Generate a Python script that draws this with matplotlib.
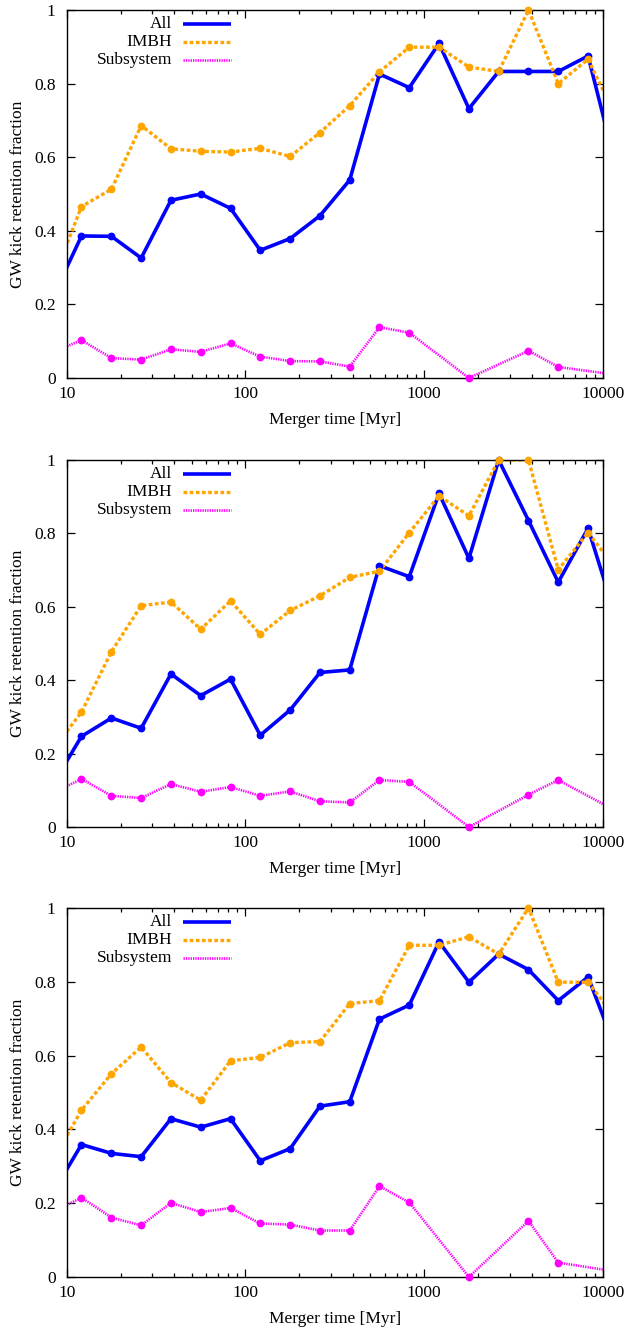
import numpy as np
import matplotlib
matplotlib.use("Agg")
import matplotlib.pyplot as plt
from matplotlib.lines import Line2D
from matplotlib.ticker import LogLocator, NullFormatter, FixedLocator, FixedFormatter

plt.rcParams['font.family'] = ['Liberation Serif', 'DejaVu Serif']
plt.rcParams['mathtext.fontset'] = 'stix'

# Bin centres of merger time [Myr]
merger_time = [8.25, 12.1, 17.8, 26.1, 38.3, 56.2, 82.5, 121, 178, 261,
               383, 562, 825, 1210, 1778, 2610, 3830, 5620, 8250, 12100]

nan = np.nan
# Panel 1
all_1 = [0.213, 0.386, 0.385, 0.326, 0.483, 0.500, 0.461, 0.347, 0.379, 0.441,
         0.538, 0.826, 0.789, 0.909, 0.732, 0.833, 0.833, 0.833, 0.875, 0.555]
imbh_1 = [0.258, 0.466, 0.513, 0.686, 0.623, 0.616, 0.614, 0.624, 0.602, 0.667,
          0.740, 0.832, 0.899, 0.899, 0.845, 0.833, 1.000, 0.800, 0.866, 0.700]
sub_1 = [0.069, 0.103, 0.054, 0.050, 0.078, 0.071, 0.094, 0.058, 0.046, 0.045,
         0.031, 0.138, 0.123, nan, 0.000, nan, 0.074, 0.030, nan, 0.008]
# Panel 2
all_2 = [0.111, 0.247, 0.297, 0.269, 0.417, 0.358, 0.403, 0.250, 0.319, 0.421,
         0.428, 0.712, 0.682, 0.909, 0.732, 1.000, 0.835, 0.667, 0.814, 0.554]
imbh_2 = [0.207, 0.313, 0.478, 0.603, 0.613, 0.539, 0.616, 0.525, 0.590, 0.630,
          0.680, 0.697, 0.802, 0.902, 0.848, 1.000, 1.000, 0.701, 0.802, 0.698]
sub_2 = [0.091, 0.131, 0.085, 0.079, 0.117, 0.096, 0.109, 0.085, 0.097, 0.070,
         0.067, 0.128, 0.123, nan, 0.000, nan, 0.088, 0.128, nan, 0.041]
# Panel 3
all_3 = [0.223, 0.359, 0.335, 0.326, 0.429, 0.406, 0.429, 0.315, 0.348, 0.463,
         0.475, 0.699, 0.737, 0.908, 0.799, 0.875, 0.833, 0.749, 0.813, 0.603]
imbh_3 = [0.312, 0.452, 0.551, 0.623, 0.527, 0.479, 0.586, 0.595, 0.635, 0.638,
          0.741, 0.749, 0.899, 0.899, 0.922, 0.875, 1.000, 0.799, 0.799, 0.695]
sub_3 = [0.175, 0.215, 0.161, 0.140, 0.201, 0.176, 0.187, 0.145, 0.142, 0.126,
         0.126, 0.246, 0.202, nan, 0.000, nan, 0.152, 0.039, nan, 0.014]

series_labels = ["All", "IMBH", "Subsystem"]
y_ticks = [0, 0.2, 0.4, 0.6, 0.8, 1]
y_tick_labels = ["0", "0.2", "0.4", "0.6", "0.8", "1"]
x_ticks = [10, 100, 1000, 10000]
x_tick_labels = ["10", "100", "1000", "10000"]
x_label = "Merger time [Myr]"
y_label = "GW kick retention fraction"

panels = [(all_1, imbh_1, sub_1), (all_2, imbh_2, sub_2), (all_3, imbh_3, sub_3)]

styles = [
    dict(color="#0000FF", lw=2.6, ls="-"),
    dict(color="#FFA500", lw=2.4, dashes=(1.1, 0.75)),
    dict(color="#FF00FF", lw=1.9, dashes=(0.5, 0.4)),
]

W, H = 630, 1331
fig = plt.figure(figsize=(W / 100, H / 100), dpi=100)

left_px, right_px = 66.7, 603.0
panel_px = [(10, 378), (460, 827), (908, 1277)]
FS = 12.5

for (top, bot), data in zip(panel_px, panels):
    ax = fig.add_axes([left_px / W, 1 - bot / H, (right_px - left_px) / W, (bot - top) / H])
    x = np.array(merger_time, dtype=float)
    for vals, st in zip(data, styles):
        y = np.array(vals, dtype=float)
        m = ~np.isnan(y)
        ax.plot(x[m], y[m], solid_capstyle='butt', dash_capstyle='butt', **st)
        inr = m & (x >= 10) & (x <= 10000)
        ax.plot(x[inr], y[inr], ls='none', marker='o', ms=4.6, color=st['color'],
                mec=st['color'], clip_on=False, zorder=3)
    ax.set_xscale('log')
    ax.set_xlim(10, 10000)
    ax.set_ylim(0, 1)
    ax.xaxis.set_major_locator(FixedLocator(x_ticks))
    ax.xaxis.set_major_formatter(FixedFormatter(x_tick_labels))
    ax.xaxis.set_minor_locator(LogLocator(base=10, subs=np.arange(2, 10)))
    ax.xaxis.set_minor_formatter(NullFormatter())
    ax.yaxis.set_major_locator(FixedLocator(y_ticks))
    ax.yaxis.set_major_formatter(FixedFormatter(y_tick_labels))
    ax.tick_params(which='both', direction='in', top=True, right=True,
                   labelsize=FS, width=0.9, colors='black')
    ax.tick_params(which='major', length=5.5)
    ax.tick_params(which='minor', length=3)
    ax.tick_params(axis='x', pad=6)
    ax.tick_params(axis='y', pad=8)
    for sp in ax.spines.values():
        sp.set_linewidth(1.0)
    ax.set_xlabel(x_label, fontsize=FS, labelpad=7)
    ax.set_ylabel(y_label, fontsize=FS, labelpad=6)

    # gnuplot-style key: right aligned text, sample line to the right
    ph = bot - top
    for i, (lab, st) in enumerate(zip(series_labels, styles)):
        yy = 1 - (14 + 18 * i) / ph
        ax.text(0.196, yy, lab, transform=ax.transAxes, ha='right', va='center',
                fontsize=FS)
        ln = Line2D([0.217, 0.307], [yy, yy], transform=ax.transAxes,
                    solid_capstyle='butt', dash_capstyle='butt', **st)
        ax.add_line(ln)

fig.savefig("out.png", dpi=100)
